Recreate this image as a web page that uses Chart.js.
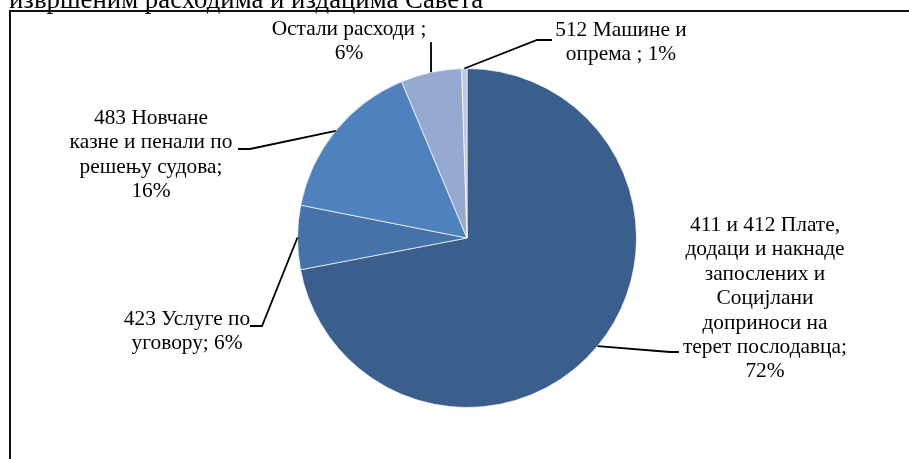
<!DOCTYPE html>
<html>
<head>
<meta charset="utf-8">
<script src="https://cdn.jsdelivr.net/npm/chart.js@4.4.1/dist/chart.umd.min.js"></script>
<style>
    html, body { margin: 0; padding: 0; background: #fff; }
    canvas { display: block; }
</style>
</head>
<body>
<canvas id="myChart" width="909" height="459"></canvas>
<script>

const categories = [
    '411 и 412 Плате, додаци и накнаде запослених и Социјлани доприноси на терет послодавца',
    '423 Услуге по уговору',
    '483 Новчане казне и пенали по решењу судова',
    'Остали расходи',
    '512 Машине и опрема',
];

// share of total
const shares = [72.0, 6.1, 15.6, 5.8, 0.5];

const labelLines = [
    ['411 и 412 Плате,', 'додаци и накнаде', 'запослених и', 'Социјлани', 'доприноси на', 'терет послодавца;', '72%'],
    ['423 Услуге по', 'уговору; 6%'],
    ['483 Новчане', 'казне и пенали по', 'решењу судова;', '16%'],
    ['Остали расходи ;', '6%'],
    ['512 Машине и', 'опрема ; 1%'],
];

const pageText = 'извршеним расходима и издацима Савета';

const sliceColors = ['#3b5f8d', '#4572a8', '#4f81bd', '#95a9d1', '#bcc8e2'];

// where each label sits and how its leader line bends
const labelLayout = [
    { x: 765, y: 231, bend: [670, 352], end: [679, 352] },
    { x: 187, y: 325, bend: [262, 326], end: [250, 326] },
    { x: 151, y: 124, bend: [250, 149], end: [238, 149] },
    { x: 349, y: 35, bend: null, end: [431, 42] },
    { x: 621, y: 36, bend: [537, 40], end: [552, 40] },
];

const FONT = '21.4px "Liberation Serif", "Times New Roman", serif';
const LINE_H = 24.4;

const frame = {
    id: 'frame',
    beforeDraw(chart) {
        const ctx = chart.ctx;
        ctx.save();
        ctx.fillStyle = '#fff';
        ctx.fillRect(0, 0, chart.width, chart.height);
        ctx.fillStyle = '#000';
        ctx.font = '26.8px "Liberation Serif", "Times New Roman", serif';
        ctx.textBaseline = 'alphabetic';
        ctx.textAlign = 'left';
        ctx.fillText(pageText, 9, 8);
        ctx.strokeStyle = '#111';
        ctx.lineWidth = 2;
        ctx.strokeRect(10, 11, 1000, 1000);
        ctx.restore();
    }
};

const leaderLabels = {
    id: 'leaderLabels',
    afterDatasetsDraw(chart) {
        const ctx = chart.ctx;
        const arcs = chart.getDatasetMeta(0).data;
        ctx.save();
        ctx.strokeStyle = '#000';
        ctx.lineWidth = 1.8;
        arcs.forEach((arc, i) => {
            const p = arc.getProps(['x', 'y', 'startAngle', 'endAngle', 'outerRadius'], true);
            const mid = (p.startAngle + p.endAngle) / 2;
            const sx = p.x + Math.cos(mid) * p.outerRadius;
            const sy = p.y + Math.sin(mid) * p.outerRadius;
            const lay = labelLayout[i];
            ctx.beginPath();
            ctx.moveTo(sx, sy);
            if (lay.bend) ctx.lineTo(lay.bend[0], lay.bend[1]);
            ctx.lineTo(lay.end[0], lay.end[1]);
            ctx.stroke();

            ctx.fillStyle = '#000';
            ctx.font = FONT;
            ctx.textAlign = 'center';
            ctx.textBaseline = 'alphabetic';
            labelLines[i].forEach((line, k) => {
                ctx.fillText(line, lay.x, lay.y + k * LINE_H);
            });
        });
        ctx.restore();
    }
};

const data = {
    labels: categories,
    datasets: [{
        data: shares,
        backgroundColor: sliceColors,
        borderColor: 'rgba(255,255,255,0.7)',
        borderWidth: 1,
    }]
};

const config = {
    type: 'pie',
    data: data,
    options: {
        responsive: false,
        animation: false,
        layout: { padding: { left: 297, right: 272, top: 68, bottom: 51 } },
        plugins: {
            legend: { display: false },
            tooltip: { enabled: false },
        },
        events: [],
    },
    plugins: [frame, leaderLabels]
};

new Chart(document.getElementById('myChart'), config);
</script>
</body>
</html>
